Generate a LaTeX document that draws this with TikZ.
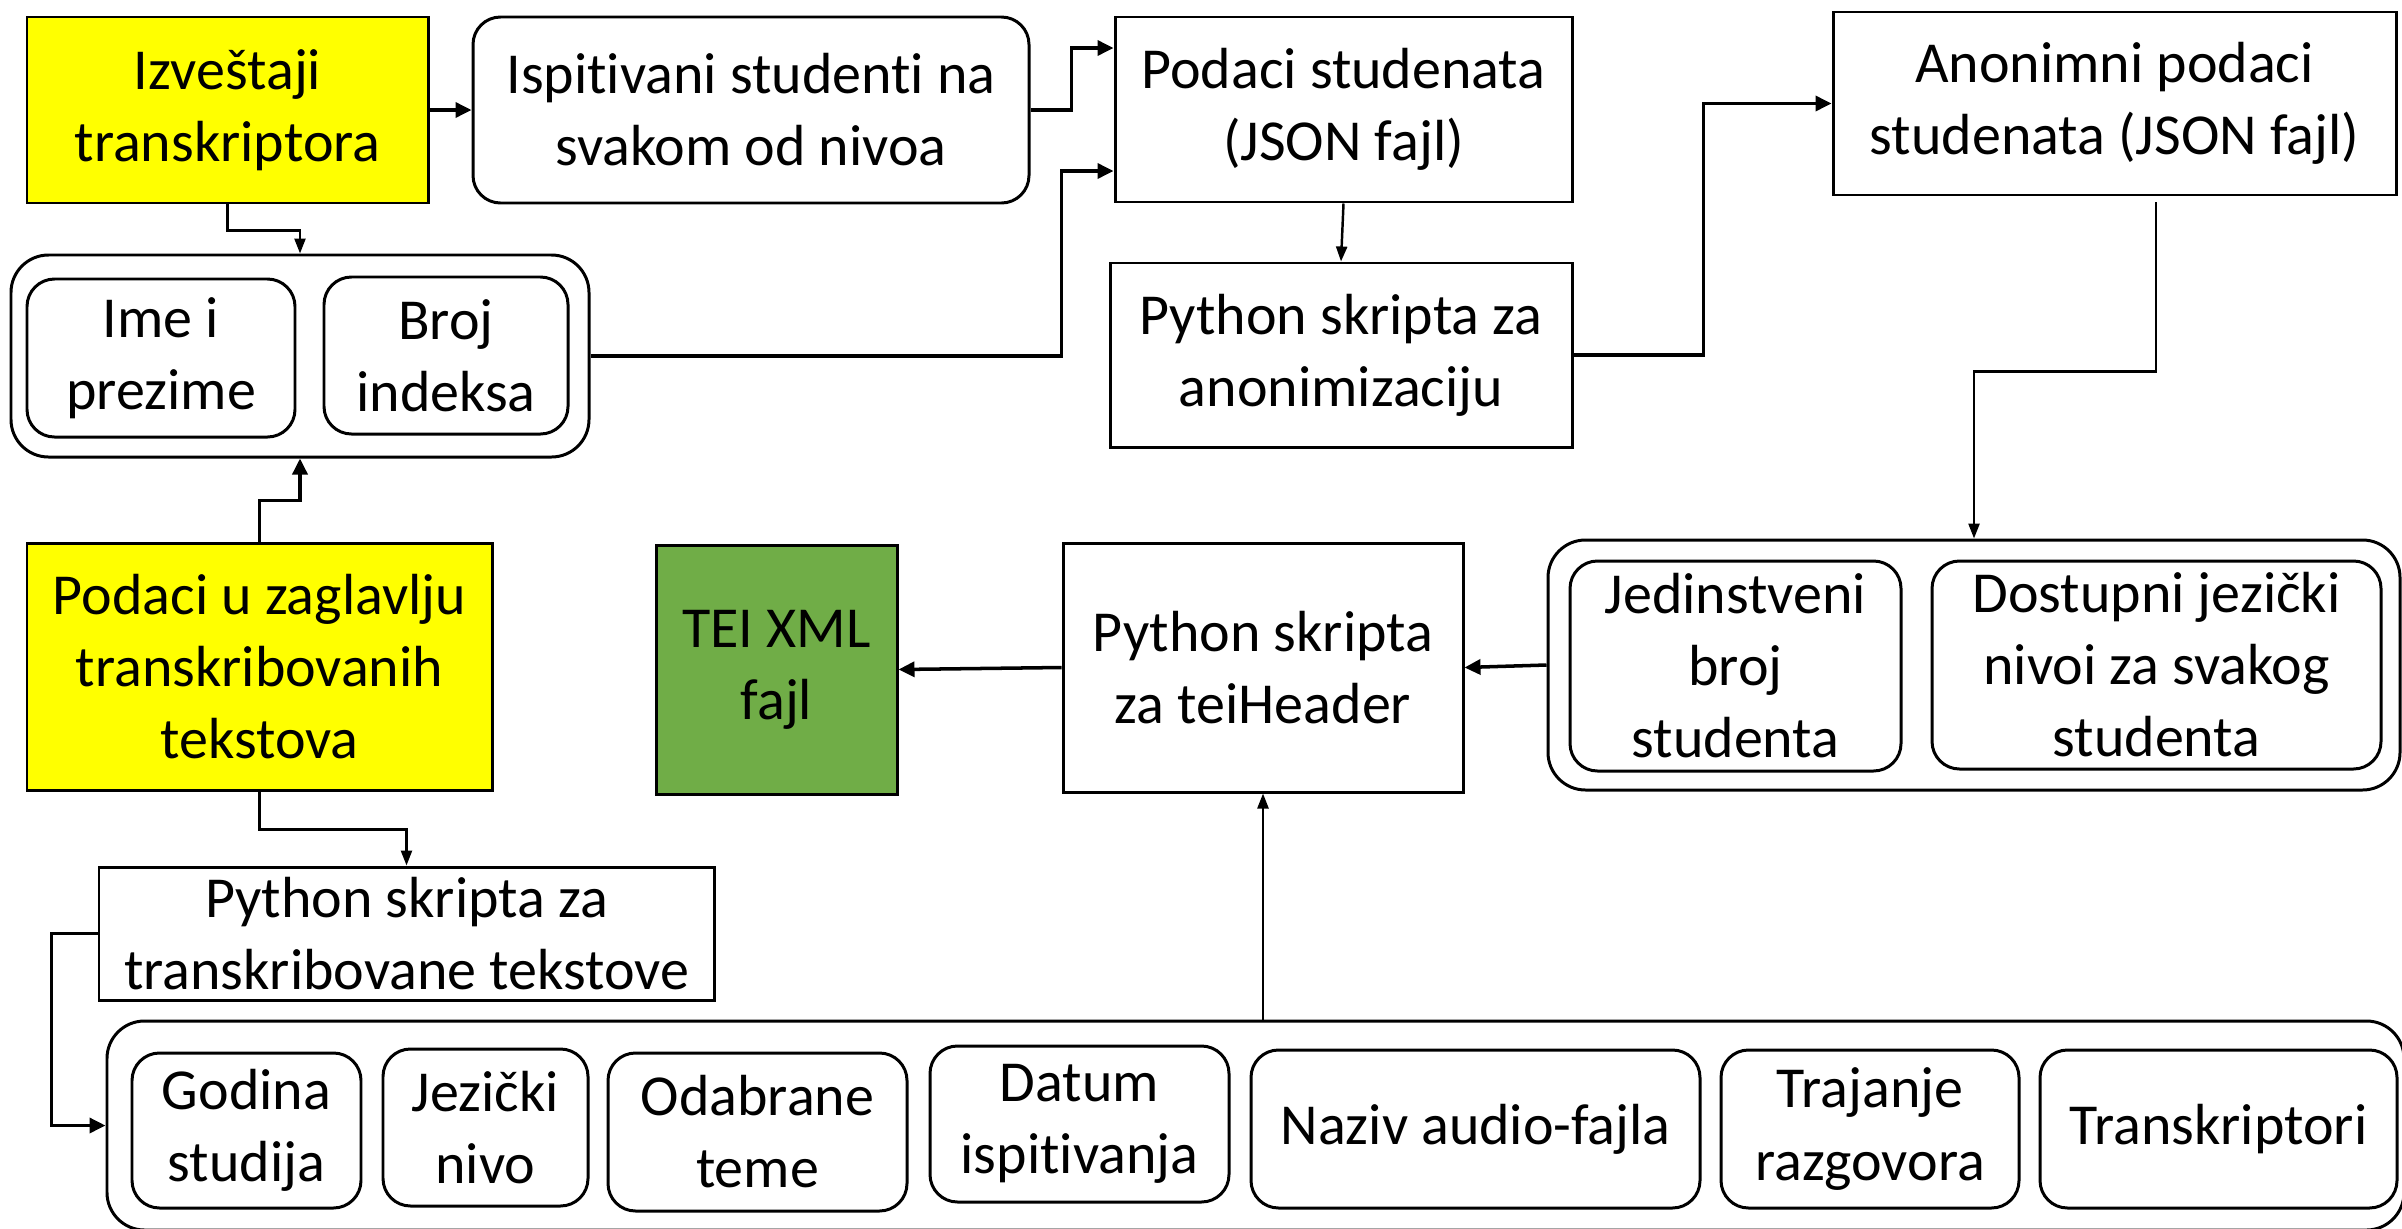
\documentclass[tikz,border=0pt]{standalone}
\usepackage{fontspec}
\setmainfont{Carlito}[Ligatures=NoCommon]
\usetikzlibrary{arrows.meta}
\definecolor{zuta}{HTML}{FFFF00}
\definecolor{zelena}{HTML}{70AD47}

\begin{document}
\begin{tikzpicture}[font=\fontsize{33}{41}\selectfont,
  box/.style={draw, line width=1.7pt, align=center, inner sep=0pt},
  rbox/.style={box, rounded corners=0.55cm},
  grp/.style={box, rounded corners=0.75cm},
  arr/.style={line width=2pt, -{Triangle[length=0.32cm,width=0.3cm]}},
  tarr/.style={line width=1.4pt, -{Triangle[length=0.3cm,width=0.22cm]}}]
\useasboundingbox (0,0) rectangle (48.04,-24.56);

\node[box, fill=zuta, minimum width=8.02cm, minimum height=3.72cm] (izv) at (4.55,-2.2) {Izveštaji\\transkriptora};
\node[rbox, minimum width=11.12cm, minimum height=3.72cm] (isp) at (15.02,-2.2) {Ispitivani studenti na\\svakom od nivoa};
\node[box, minimum width=9.14cm, minimum height=3.7cm] (pod) at (26.87,-2.19) {Podaci studenata\\(JSON fajl)};
\node[box, minimum width=11.26cm, minimum height=3.66cm] (anon) at (42.29,-2.07) {Anonimni podaci\\studenata (JSON fajl)};
\node[box, minimum width=9.24cm, minimum height=3.68cm] (pyan) at (26.82,-7.1) {Python skripta za\\anonimizaciju};

\node[grp, minimum width=11.56cm, minimum height=4.04cm] (grp1) at (6.0,-7.12) {};
\node[rbox, minimum width=5.36cm, minimum height=3.16cm] (ime) at (3.22,-7.16) {Ime i\\prezime};
\node[rbox, minimum width=4.88cm, minimum height=3.14cm] (broj) at (8.92,-7.11) {Broj\\indeksa};

\node[box, fill=zuta, minimum width=9.3cm, minimum height=4.94cm] (zag) at (5.19,-13.33) {Podaci u zaglavlju\\transkribovanih\\tekstova};
\node[box, fill=zelena, minimum width=4.82cm, minimum height=4.98cm] (tei) at (15.53,-13.39) {TEI XML\\fajl};
\node[box, minimum width=8.0cm, minimum height=4.98cm] (pyth) at (25.26,-13.35) {Python skripta\\za teiHeader};

\node[grp, minimum width=17.04cm, minimum height=5.0cm] (grp2) at (39.48,-13.3) {};
\node[rbox, minimum width=6.62cm, minimum height=4.2cm] (jed) at (34.71,-13.32) {Jedinstveni\\broj\\studenta};
\node[rbox, minimum width=8.98cm, minimum height=4.16cm] (dos) at (43.13,-13.3) {Dostupni jezički\\nivoi za svakog\\studenta};

\node[box, minimum width=12.3cm, minimum height=2.66cm] (pytr) at (8.13,-18.67) {Python skripta za\\transkribovane tekstove};

\node[grp, minimum width=45.94cm, minimum height=4.18cm] (grp3) at (25.11,-22.51) {};
\node[rbox, minimum width=4.58cm, minimum height=3.1cm] (god) at (4.93,-22.61) {Godina\\studija};
\node[rbox, minimum width=4.1cm, minimum height=3.14cm] (jez) at (9.71,-22.55) {Jezički\\nivo};
\node[rbox, minimum width=5.98cm, minimum height=3.16cm] (oda) at (15.15,-22.64) {Odabrane\\teme};
\node[rbox, minimum width=5.98cm, minimum height=3.12cm] (dat) at (21.59,-22.48) {Datum\\ispitivanja};
\node[rbox, minimum width=8.98cm, minimum height=3.16cm] (naz) at (29.51,-22.58) {Naziv audio-fajla};
\node[rbox, minimum width=5.96cm, minimum height=3.16cm] (tra) at (37.4,-22.58) {Trajanje\\razgovora};
\node[rbox, minimum width=7.14cm, minimum height=3.16cm] (trk) at (44.37,-22.58) {Transkriptori};

\draw[arr] (izv.east) -- (isp.west);
\draw[arr] (isp.east) -- ++(0.82,0) |- ([yshift=1.23cm]pod.west);
\draw[arr] (grp1.east) -- ++(9.42,0) |- ([yshift=-1.23cm]pod.west);
\draw[tarr] (izv.south) -- ++(0,-0.52) -| (grp1.north);
\draw[arr] (zag.north) -- ++(0,0.82) -| (grp1.south);
\draw[tarr] (pod.south) -- (pyan.north);
\draw[arr] (pyan.east) -- ++(2.6,0) |- (anon.west);
\draw[tarr] ([xshift=0.83cm,yshift=-0.12cm]anon.south) -- ++(0,-3.38) -| (grp2.north);
\draw[arr] (grp2.west) -- (pyth.east);
\draw[arr] (pyth.west) -- (tei.east);
\draw[tarr] (grp3.north -| pyth.south) -- (pyth.south);
\draw[tarr] (zag.south) -- ++(0,-0.76) -| (pytr.north);
\draw[arr] (pytr.west) -- ++(-0.92,0) |- (grp3.west);
\end{tikzpicture}
\end{document}
